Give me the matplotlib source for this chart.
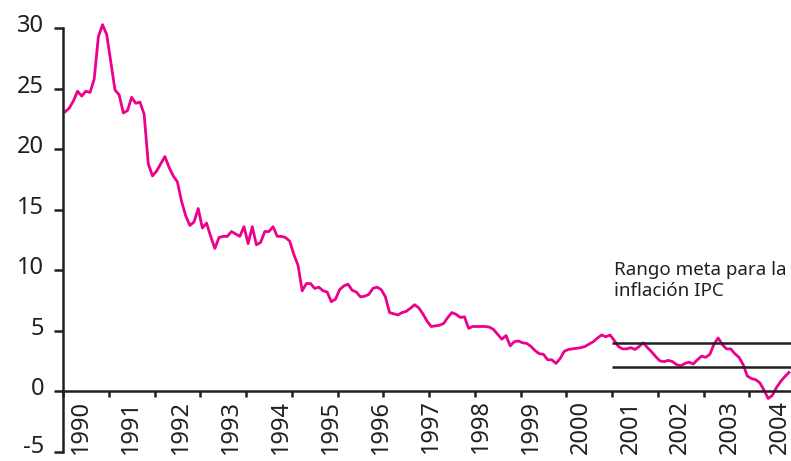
import numpy as np
import matplotlib.pyplot as plt
from matplotlib.transforms import ScaledTranslation

# monthly annual CPI inflation (%), Jan 1990 - Jul 2004
inflation = [
    23.1, 23.4, 24.0, 24.8, 24.4, 24.8, 24.7, 25.8, 29.3, 30.3,
    29.5, 27.2, 24.9, 24.5, 23.0, 23.2, 24.3, 23.8, 23.9, 22.9,
    18.8, 17.8, 18.2, 18.8, 19.4, 18.5, 17.8, 17.3, 15.7, 14.5,
    13.7, 14.0, 15.1, 13.5, 13.9, 12.8, 11.8, 12.7, 12.8, 12.8,
    13.2, 13.0, 12.8, 13.6, 12.2, 13.6, 12.1, 12.3, 13.2, 13.2,
    13.6, 12.8, 12.8, 12.7, 12.4, 11.3, 10.4, 8.3, 8.9, 8.9,
    8.5, 8.6, 8.3, 8.2, 7.4, 7.6, 8.4, 8.7, 8.85, 8.35,
    8.2, 7.8, 7.85, 8.0, 8.5, 8.6, 8.4, 7.8, 6.5, 6.4,
    6.3, 6.5, 6.6, 6.85, 7.15, 6.9, 6.4, 5.8, 5.35, 5.4,
    5.45, 5.6, 6.1, 6.5, 6.35, 6.1, 6.15, 5.2, 5.35, 5.35,
    5.35, 5.35, 5.3, 5.1, 4.7, 4.3, 4.6, 3.75, 4.1, 4.15,
    4.0, 3.95, 3.7, 3.35, 3.1, 3.05, 2.6, 2.6, 2.3, 2.7,
    3.3, 3.45, 3.5, 3.55, 3.6, 3.7, 3.9, 4.1, 4.4, 4.65,
    4.5, 4.65, 4.2, 3.7, 3.5, 3.5, 3.6, 3.45, 3.7, 4.0,
    3.6, 3.25, 2.85, 2.5, 2.45, 2.55, 2.45, 2.2, 2.1, 2.3,
    2.4, 2.25, 2.6, 2.9, 2.8, 3.05, 3.9, 4.4, 3.85, 3.5,
    3.5, 3.1, 2.8, 2.2, 1.25, 1.05, 0.95, 0.7, 0.1, -0.6,
    -0.35, 0.3, 0.8, 1.2, 1.55,
]
years = [str(y) for y in range(1990, 2005)]
target_low = 2
target_high = 4
target_start = 132  # Jan 2001
target_label = "Rango meta para la\ninflación IPC"

plt.rcParams['font.family'] = ['Noto Sans', 'DejaVu Sans']
plt.rcParams['font.weight'] = 'light'
plt.rcParams['axes.unicode_minus'] = False

ink = '#231F20'
pink = '#EC008C'
fs = 17

fig = plt.figure(figsize=(7.91, 4.61), dpi=100)
ax = fig.add_axes([63 / 791, 9.3 / 461, 728 / 791, 423.4 / 461])

months = np.arange(len(inflation))
ax.plot(months, inflation, color=pink, lw=2.0, solid_joinstyle='round', clip_on=False)

ax.hlines([target_low, target_high], target_start - 0.5, len(inflation) - 0.5,
          color=ink, lw=1.8)
ax.text(target_start, 10.8, target_label, fontsize=13.5, color=ink, va='top', ha='left',
        linespacing=1.25)

ax.set_xlim(-0.5, len(inflation) - 0.5)
ax.set_ylim(-5, 30)

for s in ['top', 'right']:
    ax.spines[s].set_visible(False)
ax.spines['bottom'].set_position(('data', 0))
ax.spines['left'].set_bounds(-5, 30)
for s in ['left', 'bottom']:
    ax.spines[s].set_color(ink)
    ax.spines[s].set_linewidth(1.8)

ax.set_yticks(np.arange(-5, 31, 5))
ax.tick_params(axis='y', direction='out', length=6.5, width=1.8, color=ink,
               labelsize=fs, labelcolor=ink, pad=7)
for lab in ax.get_yticklabels():
    dy = 0.08 if lab.get_text() == '-5' else 0.05
    lab.set_transform(lab.get_transform() + ScaledTranslation(0, dy, fig.dpi_scale_trans))

# tick marks every 11 months, year labels every 12 months
ax.set_xticks(np.arange(-0.5, len(inflation), 11))
ax.set_xticklabels([])
ax.tick_params(axis='x', which='major', direction='out', length=4, width=1.8, color=ink)
ax.set_xticks(3.9 + 12 * np.arange(len(years)), minor=True)
ax.set_xticklabels(years, minor=True, rotation=90, va='top', ha='center')
ax.tick_params(axis='x', which='minor', length=0, pad=6, labelsize=fs, labelcolor=ink)

fig.savefig('out.png', dpi=100)
